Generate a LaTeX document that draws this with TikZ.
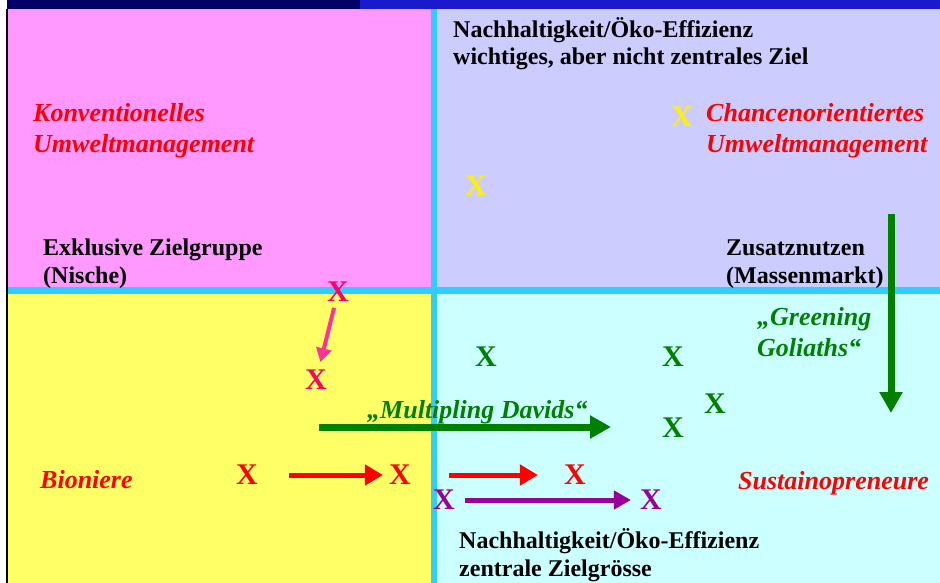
\documentclass[tikz,border=0pt]{standalone}
\usepackage{fontspec}
\setmainfont{Liberation Serif}
\usetikzlibrary{arrows.meta}
\definecolor{barnavy}{HTML}{000066}
\definecolor{barblue}{HTML}{1A1ACC}
\definecolor{quadpink}{HTML}{FF99FF}
\definecolor{quadlav}{HTML}{CCCCFF}
\definecolor{quadyel}{HTML}{FFFF66}
\definecolor{quadcyan}{HTML}{CCFFFF}
\definecolor{divcyan}{HTML}{33CCFF}
\definecolor{dgreen}{HTML}{008000}
\definecolor{dpurple}{HTML}{990099}
\definecolor{xpink}{HTML}{FF0066}
\definecolor{arrpink}{HTML}{FF3399}
\begin{document}
\begin{tikzpicture}[x=1pt,y=-1pt,
    lbl/.style={font=\bfseries\fontsize{24}{27.6}\selectfont, align=left, anchor=base west, inner sep=0pt},
    ital/.style={font=\bfseries\itshape\fontsize{26}{31}\selectfont, text=red, align=left, anchor=base west, inner sep=0pt},
    xmark/.style={font=\bfseries\fontsize{30}{30}\selectfont, inner sep=0pt},
    redarr/.style={red, line width=5pt, -{Triangle[length=18pt,width=20pt]}},
    purparr/.style={dpurple, line width=5pt, -{Triangle[length=17pt,width=18pt]}},
    greenarr/.style={dgreen, line width=7pt, -{Triangle[length=21pt,width=22pt]}},
    pinkarr/.style={arrpink, line width=4pt, -{Triangle[length=14pt,width=15pt]}}]
    \useasboundingbox (0,0) rectangle (940,583);
    \fill[white] (0,0) rectangle (940,583);
    \fill[barnavy] (7,0) rectangle (360,9);
    \fill[barblue] (360,0) rectangle (940,9);
    \fill[black] (6,9) rectangle (8,583);
    \fill[quadpink] (8,9) rectangle (431,287);
    \fill[quadlav] (437,9) rectangle (940,287);
    \fill[quadyel] (8,294) rectangle (431,583);
    \fill[quadcyan] (437,294) rectangle (940,583);
    \fill[divcyan] (431,9) rectangle (437,583);
    \fill[divcyan] (8,287) rectangle (940,294);

    % multi-line labels sit on the baseline of their last line
    \node[lbl] (goaltop) at (453,65) {Nachhaltigkeit/Öko-Effizienz\\wichtiges, aber nicht zentrales Ziel};
    \node[lbl] (goalbot) at (459,576) {Nachhaltigkeit/Öko-Effizienz\\zentrale Zielgrösse};
    \node[lbl] (nische) at (43,283) {Exklusive Zielgruppe\\(Nische)};
    \node[lbl] (masse) at (726,283) {Zusatznutzen\\(Massenmarkt)};
    \node[ital] (konv) at (33,153) {Konventionelles\\Umweltmanagement};
    \node[ital] (chance) at (706,153) {Chancenorientiertes\\Umweltmanagement};
    \node[ital] (bion) at (40,488) {Bioniere};
    \node[ital] (sustain) at (738,489) {Sustainopreneure};
    \node[ital, text=dgreen] (goliath) at (757,356) {„Greening\\Goliaths“};
    \node[ital, text=dgreen] (davids) at (367,418) {„Multipling Davids“};

    \node[xmark, text=yellow] (xy1) at (682,117) {X};
    \node[xmark, text=yellow] (xy2) at (476,186) {X};
    \node[xmark, text=xpink] (xp1) at (338,292) {X};
    \node[xmark, text=xpink] (xp2) at (316,380) {X};
    \node[xmark, text=dgreen] (xg1) at (486,357) {X};
    \node[xmark, text=dgreen] (xg2) at (673,357) {X};
    \node[xmark, text=dgreen] (xg3) at (715,404) {X};
    \node[xmark, text=dgreen] (xg4) at (673,428) {X};
    \node[xmark, text=red] (xr1) at (247,475) {X};
    \node[xmark, text=red] (xr2) at (400,475) {X};
    \node[xmark, text=red] (xr3) at (575,475) {X};
    \node[xmark, text=dpurple] (xv1) at (444,500) {X};
    \node[xmark, text=dpurple] (xv2) at (651,500) {X};

    \coordinate (dav0) at (319,427);
    \coordinate (dav1) at (611,427);
    \coordinate (gol0) at (891,214);
    \coordinate (gol1) at (891,413);

    \draw[pinkarr, shorten <=6pt, shorten >=8pt] (xp1) -- (xp2);
    \draw[redarr, shorten <=31pt, shorten >=6pt] (xr1) -- (xr2);
    \draw[redarr, shorten <=38pt, shorten >=26pt] (xr2) -- (xr3);
    \draw[purparr, shorten <=10pt, shorten >=9pt] (xv1) -- (xv2);
    \draw[greenarr] (dav0) -- (dav1);
    \draw[greenarr] (gol0) -- (gol1);
\end{tikzpicture}
\end{document}
